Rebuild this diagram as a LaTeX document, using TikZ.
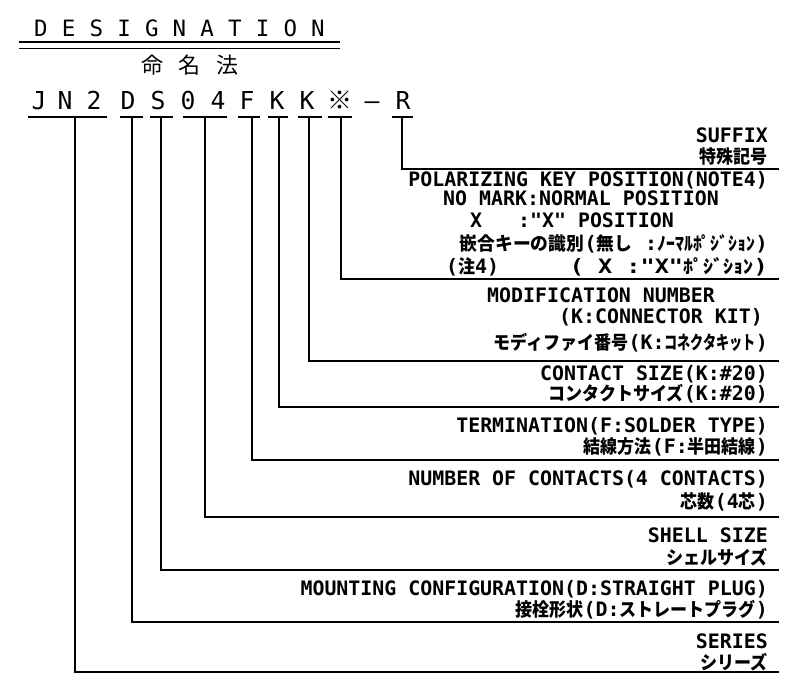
\documentclass[tikz,border=0pt]{standalone}
\usepackage{fontspec}
\usepackage{graphicx}
\setmainfont{DejaVu Sans}
\newfontfamily\mono{DejaVu Sans Mono}
\newfontfamily\jp{Noto Sans CJK JP}
\newcommand{\jt}[1]{\scalebox{0.92}[1]{\jp\bfseries\fontsize{18.5}{18.5}\selectfont #1}}
\tikzset{
  lbl/.style={anchor=base east, inner sep=0pt, font=\mono\bfseries\fontsize{19.9}{20}\selectfont},
  lblw/.style={anchor=base west, inner sep=0pt, font=\mono\bfseries\fontsize{19.9}{20}\selectfont},
  hd/.style={anchor=base, inner sep=0pt, font=\mono\fontsize{22.5}{22}\selectfont},
  hj/.style={anchor=base, inner sep=0pt, font=\jp\fontsize{22}{22}\selectfont},
  cd/.style={anchor=base, inner sep=0pt, font=\mono\fontsize{24.7}{25}\selectfont},
  lead/.style={line width=1.6pt},
  rule/.style={line width=1.6pt}
}
\begin{document}
\begin{tikzpicture}[x=1pt,y=-1pt]
\fill[white] (0,0) rectangle (812,674);
\useasboundingbox (0,0) rectangle (812,674);

% title
\foreach \c/\x [count=\i] in {D/41,E/68.7,S/96.4,I/124.1,G/151.8,N/179.5,A/207.2,T/234.9,I/262.6,O/290.3,N/318}
  \node[hd] (t\i) at (\x,37) {\c};
\coordinate (dl1) at (19,42); \coordinate (dr1) at (340,42);
\coordinate (dl2) at (19,48.5); \coordinate (dr2) at (340,48.5);
\draw[rule] (dl1) -- (dr1);
\draw[rule] (dl2) -- (dr2);
\node[hj] (m1) at (152,74) {命};
\node[hj] (m2) at (189,74) {名};
\node[hj] (m3) at (227,74) {法};

% code
\node[cd] (cJ) at (39,110) {J};
\node[cd] (cN) at (65,110) {N};
\node[cd] (c2) at (94,110) {2};
\node[cd] (cD) at (128,110) {D};
\node[cd] (cS) at (158,110) {S};
\node[cd] (c0) at (188,110) {0};
\node[cd] (c4) at (218,110) {4};
\node[cd] (cF) at (247,110) {F};
\node[cd] (cK1) at (277,110) {K};
\node[cd] (cK2) at (307,110) {K};
\node[anchor=base, inner sep=0pt, font=\jp\bfseries\fontsize{25}{25}\selectfont] (cX) at (340,110) {※};
\node[cd] (cH) at (372,110) {–};
\node[cd] (cR) at (403,110) {R};

% underlines
\foreach \a/\b [count=\i] in {28/107,120/143,150/173,183/227,238/260,268/288,298/322,328/352,392/413}{
  \coordinate (ua\i) at (\a,117); \coordinate (ub\i) at (\b,117);
  \draw[rule] (ua\i) -- (ub\i);
}

% leaders
\foreach \nm/\x/\y in {N/75/672,D/132/622,S/161/570,Z/205/517,F/252/460,K/279/407,L/309/361,X/341/279,R/402/169}{
  \coordinate (u\nm) at (\x,117);
  \coordinate (e\nm) at (779,\y);
  \draw[lead] (u\nm) |- (e\nm);
}

% labels
\node[lbl] (sfx) at (768,143) {SUFFIX};
\node[lbl] (sfxj) at (768,164) {\jt{特殊記号}};

\node[lbl] (pk1) at (768,187) {POLARIZING KEY POSITION(NOTE4)};
\node[lblw] (pk2) at (443,206) {NO MARK:NORMAL POSITION};
\node[lblw] (pk3) at (470,227) {X\phantom{XXX}:"X" POSITION};
\node[lbl] (pk4) at (768,251) {\resizebox{308pt}{\height}{\jt{嵌合キーの識別}(\jt{無し} :\jt{ﾉｰﾏﾙﾎﾟｼﾞｼｮﾝ})}};
\node[lblw] (pk5) at (446,273) {(\jt{注}4)};
\node[lbl] (pk6) at (768,273) {\resizebox{198pt}{\height}{( X :"X"\jt{ﾎﾟｼﾞｼｮﾝ})}};

\node[lblw] (mn1) at (487,302) {MODIFICATION NUMBER};
\node[lbl] (mn2) at (763,323) {(K:CONNECTOR KIT)};
\node[lbl] (mn3) at (768,349) {\jt{モディファイ番号}(K:\scalebox{0.77}[1]{\jt{コネクタキット}})};

\node[lbl] (cs1) at (768,380) {CONTACT SIZE(K:\#20)};
\node[lbl] (cs2) at (768,400) {\jt{コンタクトサイズ}(K:\#20)};

\node[lbl] (tm1) at (768,432) {TERMINATION(F:SOLDER TYPE)};
\node[lbl] (tm2) at (768,453) {\jt{結線方法}(F:\jt{半田結線})};

\node[lbl] (nc1) at (768,485) {NUMBER OF CONTACTS(4 CONTACTS)};
\node[lbl] (nc2) at (768,508) {\jt{芯数}(4\jt{芯})};

\node[lbl] (ss1) at (768,542) {SHELL SIZE};
\node[lbl] (ss2) at (768,564) {\jt{シェルサイズ}};

\node[lbl] (mc1) at (768,595) {MOUNTING CONFIGURATION(D:STRAIGHT PLUG)};
\node[lbl] (mc2) at (768,616) {\jt{接栓形状}(D:\jt{ストレートプラグ})};

\node[lbl] (sr1) at (768,648) {SERIES};
\node[lbl] (sr2) at (768,669) {\jt{シリーズ}};
\end{tikzpicture}
\end{document}
